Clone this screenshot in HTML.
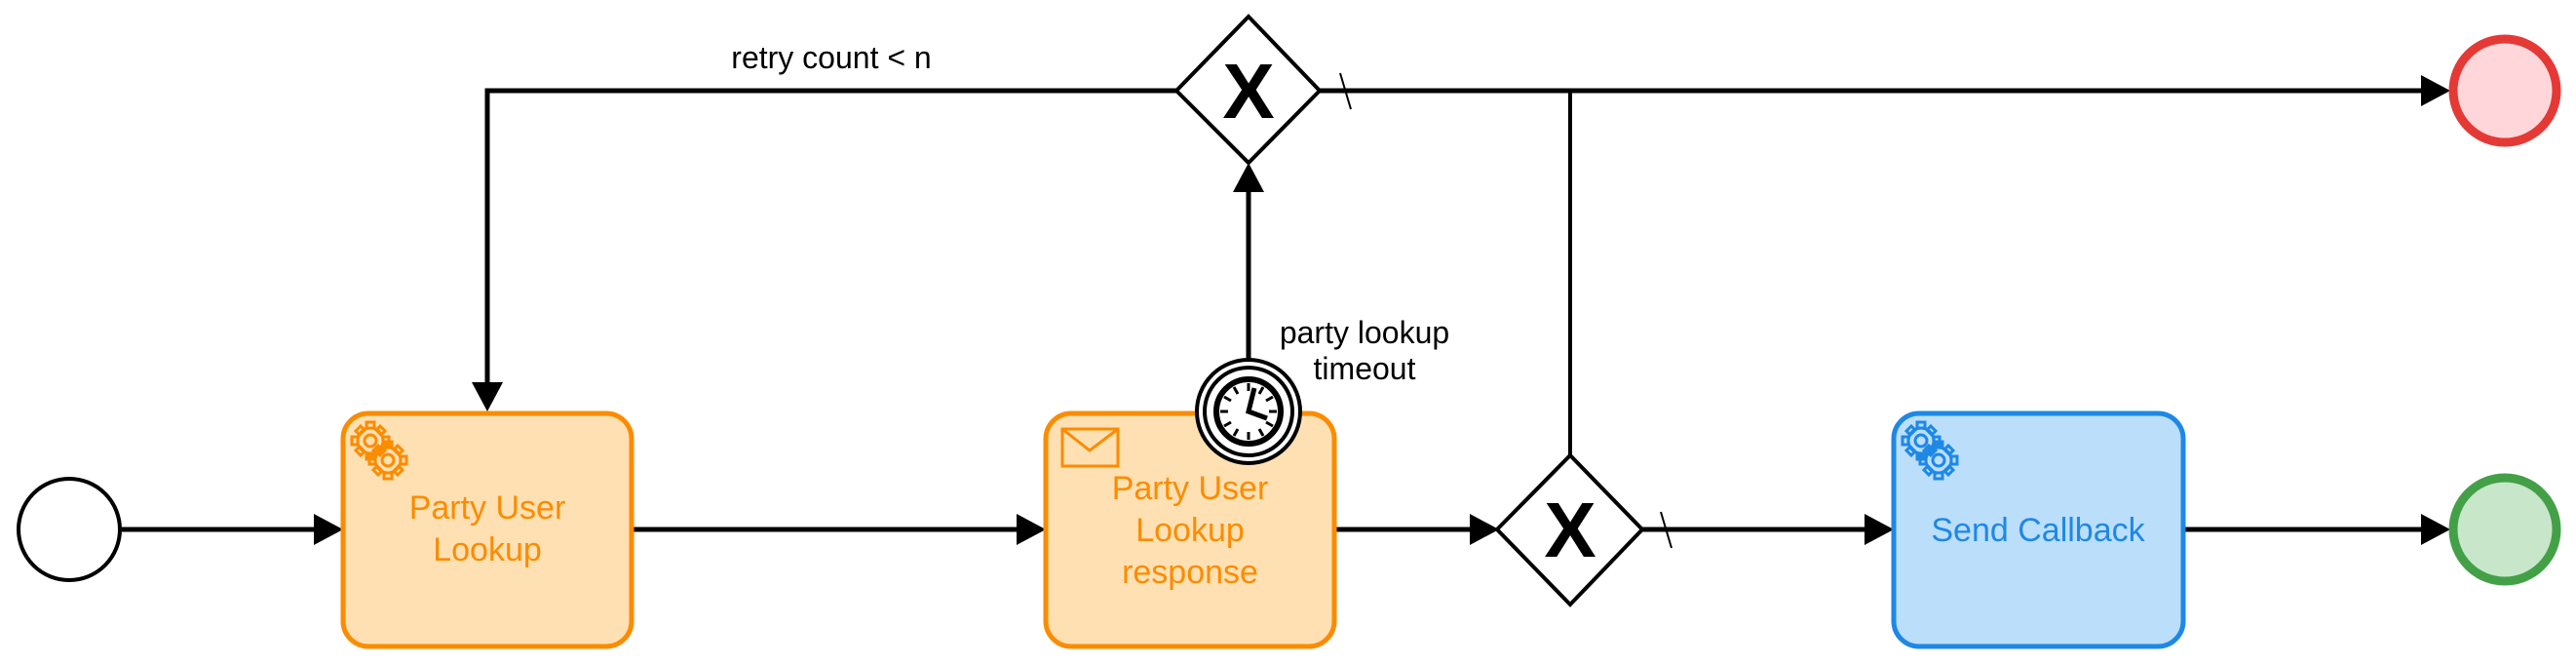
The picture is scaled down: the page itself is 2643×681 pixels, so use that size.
<!DOCTYPE html>
<html><head><meta charset="utf-8"><style>html,body{margin:0;padding:0;background:#fff}svg{display:block}</style></head><body>
<svg width="2643" height="681" viewBox="0 0 2643 681" xmlns="http://www.w3.org/2000/svg" font-family="Liberation Sans, sans-serif">
<defs>
<g id="gear" fill="none" stroke-width="3">
<circle cx="0" cy="0" r="13"/><circle cx="0" cy="0" r="6"/>
<path d="M-4,-19h8v6h-8zM-4,13h8v6h-8zM-19,-4v8h6v-8zM13,-4v8h6v-8z"/>
<path d="M-15,-10l5,-5 4,4 -5,5zM10,15l5,-5 -4,-4 -5,5zM-15,10l5,5 4,-4 -5,-5zM10,-15l5,5 -4,4 -5,-5z"/>
</g>
</defs>
<g stroke="#000" stroke-width="5" fill="none">
<line x1="125" y1="543" x2="328" y2="543"/>
<line x1="650" y1="543" x2="1050" y2="543"/>
<line x1="1371" y1="543" x2="1514" y2="543"/>
<line x1="1685" y1="543" x2="1920" y2="543"/>
<line x1="2242" y1="543" x2="2490" y2="543"/>
<polyline points="1207,93 500,93 500,398"/>
<line x1="1354" y1="93" x2="2490" y2="93"/>
<line x1="1611" y1="93" x2="1611" y2="467" stroke-width="4"/>
<line x1="1281" y1="369" x2="1281" y2="190"/>
<line x1="1375" y1="75" x2="1386" y2="112" stroke-width="2"/>
<line x1="1704" y1="525" x2="1715" y2="562" stroke-width="2"/>
</g>
<g fill="#000">
<polygon points="352,543 322,527 322,559"/>
<polygon points="1073,543 1043,527 1043,559"/>
<polygon points="1538,543 1508,527 1508,559"/>
<polygon points="1943,543 1913,527 1913,559"/>
<polygon points="2514,543 2484,527 2484,559"/>
<polygon points="2514,93 2484,77 2484,109"/>
<polygon points="500,422 484,392 516,392"/>
<polygon points="1281,167 1265,197 1297,197"/>
</g>
<circle cx="71" cy="543" r="52" fill="#fff" stroke="#000" stroke-width="4"/>
<rect x="352" y="424" width="296" height="239" rx="26" fill="#FFE0B2" stroke="#FB8C00" stroke-width="5"/>
<rect x="1073" y="424" width="296" height="239" rx="26" fill="#FFE0B2" stroke="#FB8C00" stroke-width="5"/>
<rect x="1943" y="424" width="297" height="239" rx="26" fill="#BBDEFB" stroke="#1E88E5" stroke-width="5"/>
<g fill="#FB8C00" font-size="34" text-anchor="middle">
<text x="500" y="532">Party User</text>
<text x="500" y="575">Lookup</text>
<text x="1221" y="512">Party User</text>
<text x="1221" y="555">Lookup</text>
<text x="1221" y="598">response</text>
</g>
<text x="2091" y="555" fill="#1E88E5" font-size="34" text-anchor="middle">Send Callback</text>
<g stroke="#FB8C00"><use href="#gear" x="380" y="452"/><use href="#gear" x="398" y="472"/></g>
<g stroke="#1E88E5"><use href="#gear" x="1971" y="452"/><use href="#gear" x="1989" y="472"/></g>
<rect x="1090" y="440" width="57" height="38" fill="none" stroke="#FB8C00" stroke-width="3"/>
<polyline points="1090,440 1118,462 1147,440" fill="none" stroke="#FB8C00" stroke-width="3"/>
<circle cx="1281" cy="422" r="53" fill="#fff" stroke="#000" stroke-width="4"/>
<circle cx="1281" cy="422" r="45" fill="#fff" stroke="#000" stroke-width="4"/>
<circle cx="1281" cy="422" r="33" fill="#fff" stroke="#000" stroke-width="6"/>
<g stroke="#000" stroke-width="3">
<line x1="1281" y1="393" x2="1281" y2="401"/><line x1="1281" y1="443" x2="1281" y2="451"/>
<line x1="1252" y1="422" x2="1260" y2="422"/><line x1="1302" y1="422" x2="1310" y2="422"/>
<line x1="1266" y1="397" x2="1270" y2="404"/><line x1="1296" y1="397" x2="1292" y2="404"/>
<line x1="1266" y1="447" x2="1270" y2="440"/><line x1="1296" y1="447" x2="1292" y2="440"/>
<line x1="1256" y1="407" x2="1263" y2="411"/><line x1="1306" y1="437" x2="1299" y2="433"/>
<line x1="1256" y1="437" x2="1263" y2="433"/><line x1="1306" y1="407" x2="1299" y2="411"/>
</g>
<polyline points="1287,398 1281,422 1300,429" fill="none" stroke="#000" stroke-width="5"/>
<polygon points="1281,17 1354,93 1281,167 1207,93" fill="#fff" stroke="#000" stroke-width="4"/>
<polygon points="1611,467 1685,543 1611,620 1536,543" fill="#fff" stroke="#000" stroke-width="4"/>
<text x="1281" y="121" font-size="80" font-weight="bold" text-anchor="middle">X</text>
<text x="1611" y="571" font-size="80" font-weight="bold" text-anchor="middle">X</text>
<circle cx="2570" cy="93" r="53" fill="#FFD6DA" stroke="#E53935" stroke-width="9"/>
<circle cx="2570" cy="543" r="53" fill="#C8E6C9" stroke="#43A047" stroke-width="9"/>
<g font-size="32" text-anchor="middle" fill="#000">
<text x="853" y="70">retry count &lt; n</text>
<text x="1400" y="352">party lookup</text>
<text x="1400" y="389">timeout</text>
</g>
</svg>
</body></html>
